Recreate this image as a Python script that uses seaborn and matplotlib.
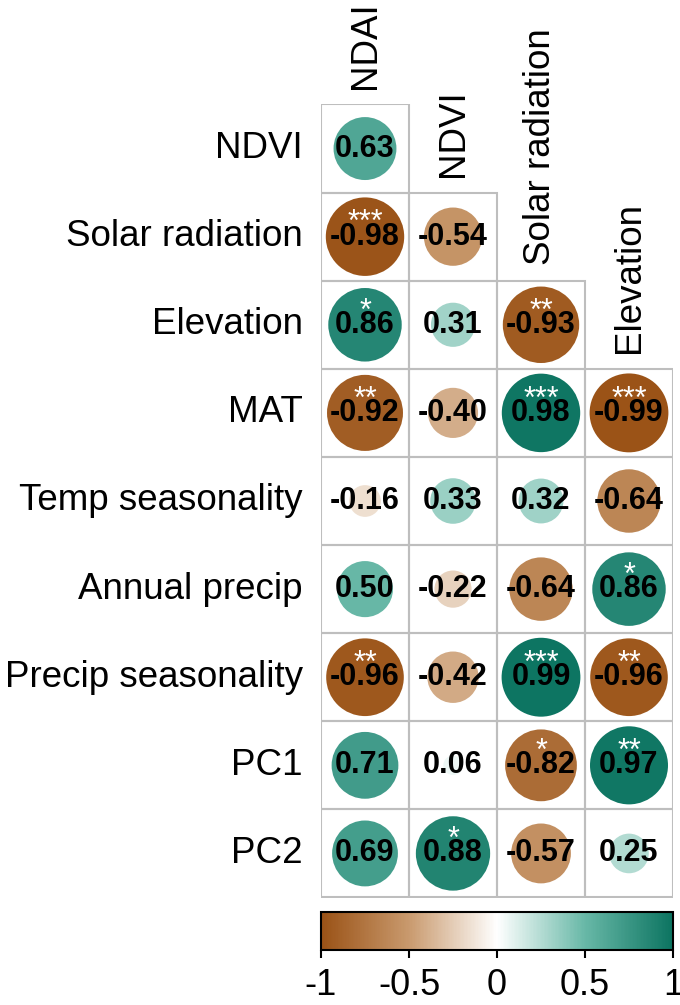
import numpy as np
import pandas as pd
import matplotlib
matplotlib.use("Agg")
import matplotlib.pyplot as plt
import seaborn as sns
from matplotlib.colors import LinearSegmentedColormap, ListedColormap, Normalize
from matplotlib.patches import Circle, Rectangle
from matplotlib.cm import ScalarMappable

# correlation values (lower triangle, NaN = not shown)
row_labels = ["NDVI", "Solar radiation", "Elevation", "MAT", "Temp seasonality",
              "Annual precip", "Precip seasonality", "PC1", "PC2"]
col_labels = ["NDAI", "NDVI", "Solar radiation", "Elevation"]

ndai = [0.63, -0.98, 0.86, -0.92, -0.16, 0.50, -0.96, 0.71, 0.69]
ndvi = [np.nan, -0.54, 0.31, -0.40, 0.33, -0.22, -0.42, 0.06, 0.88]
solar = [np.nan, np.nan, -0.93, 0.98, 0.32, -0.64, 0.99, -0.82, -0.57]
elev = [np.nan, np.nan, np.nan, -0.99, -0.64, 0.86, -0.96, 0.97, 0.25]

sig_ndai = ["", "***", "*", "**", "", "", "**", "", ""]
sig_ndvi = ["", "", "", "", "", "", "", "", "*"]
sig_solar = ["", "", "**", "***", "", "", "***", "*", ""]
sig_elev = ["", "", "", "***", "", "*", "**", "**", ""]

corr = pd.DataFrame({"NDAI": ndai, "NDVI": ndvi, "Solar radiation": solar,
                     "Elevation": elev}, index=row_labels)
sig = pd.DataFrame({"NDAI": sig_ndai, "NDVI": sig_ndvi, "Solar radiation": sig_solar,
                    "Elevation": sig_elev}, index=row_labels)

sns.set_theme(style="white")
plt.rcParams['font.family'] = ['Liberation Sans', 'DejaVu Sans']
for k in ["text.color", "axes.labelcolor", "xtick.color", "ytick.color"]:
    plt.rcParams[k] = "black"

cmap = LinearSegmentedColormap.from_list(
    "brbg_soft",
    [(0.0, "#9A5216"), (0.25, "#C99A6E"), (0.5, "#FFFFFF"),
     (0.75, "#68B8A7"), (1.0, "#0C7461")])
norm = Normalize(-1, 1)

fig = plt.figure(figsize=(6.8, 10.05), dpi=100)
ax = fig.add_axes([321 / 680, 1 - 897.5 / 1005, 352 / 680, 793 / 1005])

# white cells for the lower triangle, labels on the left
sns.heatmap(corr, mask=corr.isna(), cmap=ListedColormap(["white"]), cbar=False,
            linewidths=0, xticklabels=False, yticklabels=row_labels, ax=ax)
ax.tick_params(axis="y", length=0, pad=13, labelsize=26.5, rotation=0,
               labelcolor="black")
ax.set_xlabel("")
ax.set_ylabel("")

for i, rname in enumerate(row_labels):
    for j, cname in enumerate(col_labels):
        r = corr.loc[rname, cname]
        if np.isnan(r):
            continue
        ax.add_patch(Rectangle((j, i), 1, 1, facecolor="none", edgecolor="#BEBEBE",
                               linewidth=1.5, zorder=2))
        ax.add_patch(Circle((j + 0.5, i + 0.5), radius=0.45 * np.sqrt(abs(r)),
                            facecolor=cmap(norm(r)), edgecolor="none", zorder=3))
        ax.text(j + 0.5, i + 0.5, f"{r:.2f}", ha="center", va="center",
                fontsize=22, fontweight="bold", color="black", zorder=5)
        s = sig.loc[rname, cname]
        if s:
            ax.text(j + 0.5, i + 0.44, s, ha="center", va="baseline",
                    fontsize=22, color="white", zorder=4)

# column labels above the diagonal
for j, cname in enumerate(col_labels):
    ax.text(j + 0.5, j - 0.18, cname, rotation=90, ha="center", va="bottom",
            fontsize=26.5, color="black", clip_on=False)

for sp in ax.spines.values():
    sp.set_visible(False)

# colour bar
cax = fig.add_axes([321 / 680, 1 - 950 / 1005, 352 / 680, 38 / 1005])
cb = fig.colorbar(ScalarMappable(norm=norm, cmap=cmap), cax=cax,
                  orientation="horizontal", ticks=[-1, -0.5, 0, 0.5, 1])
cb.ax.set_xticklabels(["-1", "-0.5", "0", "0.5", "1"])
cb.ax.tick_params(length=6, width=1.5, labelsize=26, pad=7, color="black",
                  labelcolor="black")
cb.outline.set_linewidth(1.5)
cb.outline.set_edgecolor("black")

fig.savefig("out.png", dpi=100)
